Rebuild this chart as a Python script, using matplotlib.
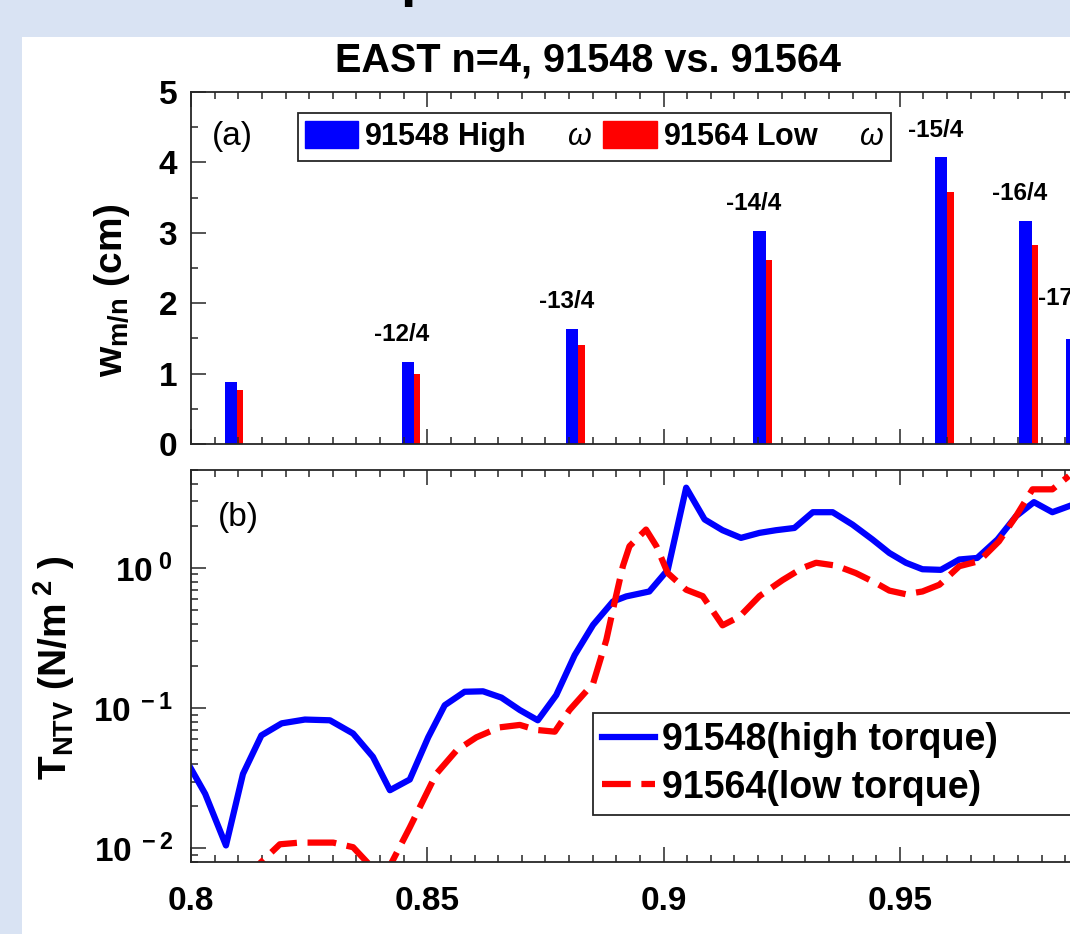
import matplotlib
matplotlib.use("Agg")
import matplotlib.pyplot as plt
from matplotlib.patches import Rectangle, Patch
from matplotlib.ticker import MultipleLocator, LogLocator, FuncFormatter, NullFormatter
import numpy as np

plt.rcParams['font.family'] = ['Liberation Sans', 'DejaVu Sans']
plt.rcParams['font.weight'] = 'bold'
plt.rcParams['mathtext.fontset'] = 'custom'
plt.rcParams['mathtext.rm'] = 'Liberation Sans'
plt.rcParams['mathtext.bf'] = 'Liberation Sans:bold'
plt.rcParams['mathtext.it'] = 'Liberation Sans:style=italic:weight=normal'

# (a) island width at each rational surface
bar_x = [0.8072, 0.8446, 0.8794, 0.9190, 0.9575, 0.9753, 0.9851]
w_high = [0.88, 1.16, 1.63, 3.03, 4.07, 3.17, 1.49]
w_low = [0.76, 1.00, 1.40, 2.61, 3.58, 2.82, 1.30]
mn_labels = ["", "-12/4", "-13/4", "-14/4", "-15/4", "-16/4", "-17/4"]

# (b) NTV torque profiles
psi_high = [0.8000, 0.8030, 0.8074, 0.8110, 0.8149, 0.8192, 0.8241, 0.8294,
            0.8343, 0.8385, 0.8421, 0.8463, 0.8502, 0.8537, 0.8579, 0.8618,
            0.8657, 0.8696, 0.8734, 0.8773, 0.8812, 0.8851, 0.8893, 0.8921,
            0.8970, 0.9009, 0.9048, 0.9087, 0.9125, 0.9164, 0.9203, 0.9238,
            0.9277, 0.9316, 0.9358, 0.9400, 0.9442, 0.9478, 0.9513, 0.9548,
            0.9587, 0.9626, 0.9664, 0.9707, 0.9746, 0.9784, 0.9823, 0.9858]
t_high = [0.037, 0.0245, 0.0105, 0.034, 0.064, 0.078, 0.083, 0.082,
          0.066, 0.045, 0.026, 0.031, 0.062, 0.105, 0.131, 0.132,
          0.119, 0.097, 0.082, 0.124, 0.239, 0.393, 0.577, 0.627,
          0.68, 0.97, 3.74, 2.22, 1.86, 1.64, 1.78, 1.86,
          1.93, 2.50, 2.50, 2.04, 1.60, 1.28, 1.09, 0.98,
          0.97, 1.15, 1.18, 1.60, 2.34, 2.95, 2.50, 2.76]

psi_low = [0.8110, 0.8188, 0.8230, 0.8301, 0.8343, 0.8385, 0.8421, 0.8463,
           0.8491, 0.8519, 0.8562, 0.8604, 0.8653, 0.8696, 0.8731, 0.8770,
           0.8801, 0.8851, 0.8879, 0.8896, 0.8914, 0.8928, 0.8963, 0.8985,
           0.9009, 0.9048, 0.9083, 0.9125, 0.9161, 0.9203, 0.9252, 0.9294,
           0.9323, 0.9365, 0.9407, 0.9450, 0.9478, 0.9513, 0.9548, 0.9584,
           0.9626, 0.9668, 0.9710, 0.9746, 0.9781, 0.9823, 0.9858]
t_low = [0.0060, 0.0107, 0.0110, 0.0110, 0.0102, 0.0072, 0.0075, 0.0141,
         0.0219, 0.034, 0.050, 0.062, 0.073, 0.076, 0.070, 0.068,
         0.097, 0.150, 0.307, 0.56, 1.03, 1.43, 1.88, 1.43,
         0.92, 0.70, 0.63, 0.39, 0.45, 0.63, 0.82, 1.00,
         1.09, 1.04, 0.92, 0.78, 0.69, 0.65, 0.68, 0.76,
         1.03, 1.12, 1.55, 2.34, 3.64, 3.64, 4.53]

W, H = 1070, 934
fig = plt.figure(figsize=(W / 100, H / 100), dpi=100, facecolor='#d9e3f3')
fig.patches.append(Rectangle((22 / W, 0), 1, 1 - 37 / H, transform=fig.transFigure,
                             facecolor='white', edgecolor='none', zorder=-1))
# descender of the slide heading above the figure
fig.text(400 / W, 1 + 5 / H, 'p', fontsize=40, va='baseline', ha='left')

axc = '#262626'
ax1 = fig.add_axes([191 / W, 1 - 444 / H, 945 / W, 352 / H])
ax2 = fig.add_axes([191 / W, 1 - 862 / H, 945 / W, 392 / H])

# ---- (a) bars
bw = 0.0026
ax1.bar(np.array(bar_x) + bw, w_low, width=bw / 2, align='edge', color='red', linewidth=0)
ax1.bar(bar_x, w_high, width=bw, align='edge', color='blue', linewidth=0)
label_dy = [0.39, 0.39, 0.39, 0.39, 0.39, 0.39, 0.58]
for x, h, lab, dy in zip(bar_x, w_high, mn_labels, label_dy):
    ax1.text(x, h + dy, lab, ha='center', va='center', fontsize=17.5)

ax1.set_xlim(0.8, 1.0)
ax1.set_ylim(0, 5)
ax1.xaxis.set_major_locator(MultipleLocator(0.05))
ax1.xaxis.set_minor_locator(MultipleLocator(0.005))
ax1.yaxis.set_major_locator(MultipleLocator(1))
ax1.yaxis.set_minor_locator(MultipleLocator(0.5))
ax1.xaxis.set_major_formatter(NullFormatter())
ax1.tick_params(which='both', direction='in', top=True, right=True, color=axc, width=1.1)
ax1.tick_params(which='major', length=11, labelsize=24)
ax1.tick_params(which='minor', length=5)
ax1.tick_params(axis='y', which='major', pad=10)
ax1.text(0.022, 0.875, '(a)', transform=ax1.transAxes, fontsize=24,
         fontweight='normal', va='center')

hs = [Patch(color='blue'), Patch(color='red')]
leg1 = ax1.legend(hs, ['91548 High     $\\omega$', '91564 Low     $\\omega$'],
                  ncol=2, loc='upper left', bbox_to_anchor=(0.1132, 0.940),
                  borderaxespad=0, fontsize=22, handlelength=1.75, handleheight=1.0,
                  handletextpad=0.2, columnspacing=0.35, borderpad=0.22,
                  fancybox=False, framealpha=1, edgecolor=axc)
leg1.get_frame().set_linewidth(1.3)

# ---- (b) torque
ax2.plot(psi_high, t_high, color='blue', lw=4.5, label='91548(high torque)')
ax2.plot(psi_low, t_low, color='red', lw=4.5, dashes=(4.6, 1.7), label='91564(low torque)')
ax2.set_yscale('log')
ax2.set_xlim(0.8, 1.0)
ax2.set_ylim(0.008, 5)
ax2.xaxis.set_major_locator(MultipleLocator(0.05))
ax2.xaxis.set_minor_locator(MultipleLocator(0.005))
ax2.xaxis.set_major_formatter(FuncFormatter(lambda v, p: '%g' % round(v, 3)))
ax2.yaxis.set_major_locator(LogLocator(base=10))
ax2.yaxis.set_minor_locator(LogLocator(base=10, subs=np.arange(2, 10)))
ax2.yaxis.set_minor_formatter(NullFormatter())
ax2.yaxis.set_major_formatter(FuncFormatter(
    lambda v, p: r'$\mathbf{10^{\ %d}}$' % round(np.log10(v))))
ax2.tick_params(which='both', direction='in', top=True, right=True, color=axc, width=1.1)
ax2.tick_params(which='major', length=11, labelsize=24)
ax2.tick_params(which='minor', length=5)
ax2.tick_params(axis='x', which='major', pad=17)
ax2.tick_params(axis='y', which='major', pad=13)
ax2.text(0.0286, 0.88, '(b)', transform=ax2.transAxes, fontsize=24,
         fontweight='normal', va='center')

leg2 = ax2.legend(loc='upper left', bbox_to_anchor=(0.4254, 0.1276, 0.55, 0.2526),
                  mode='expand', borderaxespad=0, fontsize=27, handlelength=1.4,
                  handletextpad=0.2, labelspacing=0.3, borderpad=0.25,
                  fancybox=False, framealpha=1, edgecolor=axc)
leg2.get_frame().set_linewidth(1.3)

for ax in (ax1, ax2):
    for s in ax.spines.values():
        s.set_color(axc)
        s.set_linewidth(1.3)

fig.text(588 / W, 1 - 60 / H, 'EAST n=4, 91548 vs. 91564', fontsize=28.5,
         ha='center', va='center')
fig.text(112 / W, 1 - 290 / H, r'$\mathbf{w_{m/n}}$ (cm)', rotation=90,
         fontsize=28, ha='center', va='center')
fig.text(54 / W, 1 - 668 / H, r'$\mathbf{T_{NTV}}$ $\mathbf{(N/m^{\ 2}\ )}$', rotation=90,
         fontsize=28, ha='center', va='center')

fig.savefig('out.png', dpi=100)
